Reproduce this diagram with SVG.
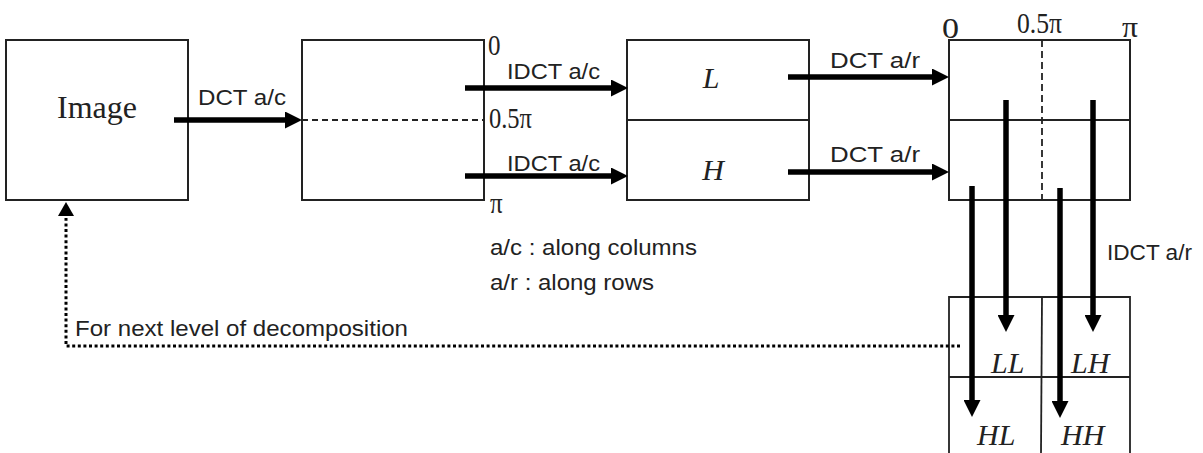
<svg xmlns="http://www.w3.org/2000/svg" width="1203" height="453" viewBox="0 0 1203 453">
<style>
.box{fill:#fff;stroke:#222;stroke-width:2}
.thin{stroke:#222;stroke-width:1.8;fill:none}
.dash{stroke:#222;stroke-width:1.8;stroke-dasharray:6 4;fill:none}
.arr{stroke:#000;stroke-width:5.5;fill:none;marker-end:url(#ah)}
.dot{stroke:#000;stroke-width:3;stroke-dasharray:3 2.6;fill:none}
.sans{font-family:"Liberation Sans",Arial,sans-serif;font-size:22.5px;fill:#222}
.serif{font-family:"Liberation Serif","Times New Roman",serif;font-size:25px;fill:#222}
.big{font-size:32px}
.top{font-size:29px}
.it{font-family:"Liberation Serif","Times New Roman",serif;font-style:italic;font-size:30px;fill:#222}
</style>
<defs>
<marker id="ah" markerWidth="17" markerHeight="17" refX="7" refY="8.5" orient="auto" markerUnits="userSpaceOnUse">
<path d="M0,0 L17,8.5 L0,17 z" fill="#000"/>
</marker>
</defs>

<g id="image">
<rect class="box" x="6" y="40" width="182" height="160"/>
<text class="serif big" x="97" y="118" text-anchor="middle">Image</text>
</g>

<g id="spectrum">
<rect class="box" x="302" y="40" width="182" height="160"/>
<line class="dash" x1="302" y1="120" x2="484" y2="120"/>
<text class="serif" transform="translate(488,55) scale(1,1.15)">0</text>
<text class="serif" transform="translate(489,128) scale(1,1.15)" textLength="43" lengthAdjust="spacingAndGlyphs">0.5π</text>
<text class="serif" transform="translate(490,213) scale(1,1.15)">π</text>
</g>

<g id="lh">
<rect class="box" x="627" y="40" width="182" height="160"/>
<line class="thin" x1="627" y1="120" x2="809" y2="120"/>
<text class="it" x="711" y="88" text-anchor="middle">L</text>
<text class="it" x="713" y="180" text-anchor="middle">H</text>
</g>

<g id="rowspec">
<rect class="box" x="949" y="40" width="181" height="160"/>
<line class="thin" x1="949" y1="120" x2="1130" y2="120"/>
<line class="dash" x1="1042" y1="40" x2="1042" y2="200" style="stroke-dasharray:7 4"/>
<text class="serif top" x="942" y="38" textLength="17" lengthAdjust="spacingAndGlyphs">0</text>
<text class="serif top" x="1017" y="33" textLength="45" lengthAdjust="spacingAndGlyphs">0.5π</text>
<text class="serif top" x="1122" y="37" textLength="16" lengthAdjust="spacingAndGlyphs">π</text>
</g>

<g id="subbands">
<polyline class="thin" points="949,453 949,297 1130,297 1130,453"/>
<line class="thin" x1="949" y1="377" x2="1130" y2="377"/>
<line class="thin" x1="1042" y1="297" x2="1041" y2="453"/>
<text class="it" x="991" y="373">LL</text>
<text class="it" x="1071" y="373">LH</text>
<text class="it" x="977" y="445">HL</text>
<text class="it" x="1061" y="445">HH</text>
</g>

<g id="connectors">
<line class="arr" x1="174" y1="120" x2="292" y2="120"/>
<line class="arr" x1="465" y1="88" x2="618" y2="88"/>
<line class="arr" x1="465" y1="176" x2="618" y2="176"/>
<line class="arr" x1="788" y1="77" x2="939" y2="77"/>
<line class="arr" x1="788" y1="172" x2="939" y2="172"/>
<line class="arr" x1="1006" y1="100" x2="1006" y2="322"/>
<line class="arr" x1="1093" y1="100" x2="1093" y2="322"/>
<line class="arr" x1="972" y1="186" x2="972" y2="407"/>
<line class="arr" x1="1060" y1="188" x2="1060" y2="408"/>
<polyline class="dot" points="960,346 66,346 66,218"/>
<path d="M58,216 L66,202 L74,216 z" fill="#000"/>
</g>

<g id="labels">
<text class="sans" x="198" y="105" textLength="88" lengthAdjust="spacingAndGlyphs">DCT a/c</text>
<text class="sans" x="507" y="79" textLength="93" lengthAdjust="spacingAndGlyphs">IDCT a/c</text>
<text class="sans" x="507" y="171" textLength="93" lengthAdjust="spacingAndGlyphs">IDCT a/c</text>
<text class="sans" x="830" y="68" textLength="90" lengthAdjust="spacingAndGlyphs">DCT a/r</text>
<text class="sans" x="830" y="162" textLength="90" lengthAdjust="spacingAndGlyphs">DCT a/r</text>
<text class="sans" x="1107" y="260" textLength="85" lengthAdjust="spacingAndGlyphs">IDCT a/r</text>
<text class="sans" x="490" y="255" textLength="207" lengthAdjust="spacingAndGlyphs">a/c : along columns</text>
<text class="sans" x="490" y="290" textLength="164" lengthAdjust="spacingAndGlyphs">a/r : along rows</text>
<text class="sans" x="75" y="336" textLength="333" lengthAdjust="spacingAndGlyphs">For next level of decomposition</text>
</g>
</svg>
